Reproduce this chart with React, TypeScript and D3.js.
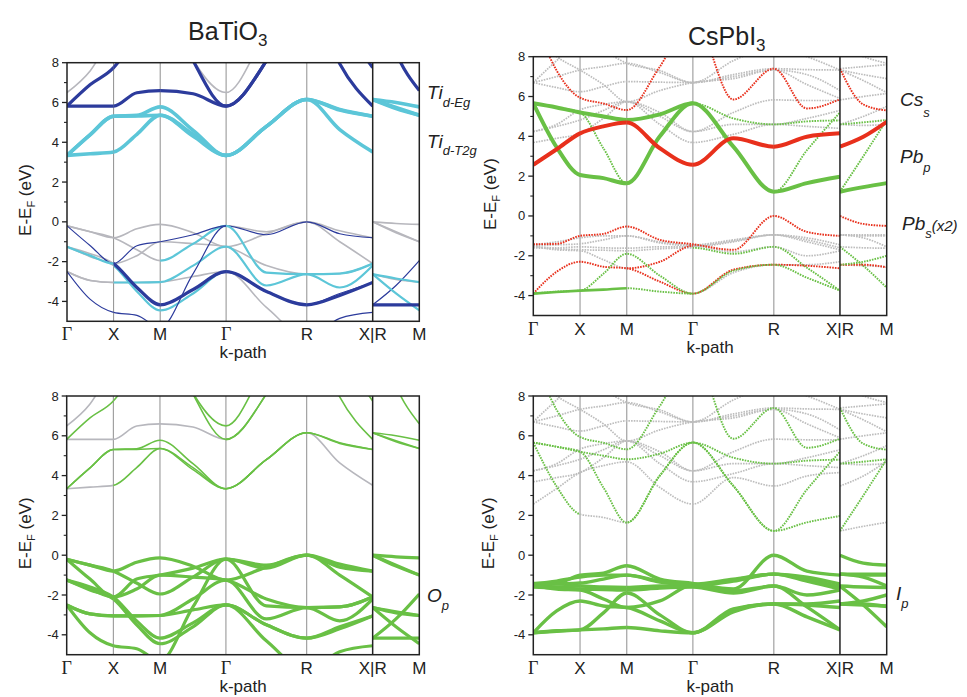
import React from 'react';
import * as d3 from 'd3';

// cubic Brillouin zone path Γ-X-M-Γ-R-X | R-M, segment lengths in units of 2π/a
const segLengths = [0.5, 0.5, 0.707, 0.866, 0.707];
const branchLength = 0.5;
const yTicks = [-4, -2, 0, 2, 4, 6, 8];
const yMinor = [-3, -1, 1, 3, 5, 7];

// energies (eV) at [Γ, ½, X, ½, M, ½, Γ, ½, R, ½, X] and branch [R, ½, M]
const batioBands = [
  [-0.2, -0.5, -0.8, -0.35, -0.13, -0.55, -1.25, -0.6, 0, -0.45, -0.8],
  [-0.2, -0.5, -0.8, -1.4, -1.95, -1.1, -0.2, -0.65, 0, -0.6, -0.8],
  [-0.2, -1.2, -2.1, -1.2, -1.0, -0.65, -0.2, -0.5, 0, -1.0, -2.1],
  [-1.25, -1.7, -2.1, -1.7, -1.0, -1.1, -1.25, -2.2, -2.63, -2.6, -2.1],
  [-1.25, -1.6, -2.1, -3.3, -4.17, -3.4, -2.5, -3.5, -4.17, -3.7, -3.05],
  [-1.25, -1.75, -2.2, -3.5, -4.45, -3.6, -2.5, -3.5, -4.17, -3.6, -3.05],
  [-2.5, -2.95, -3.05, -3.05, -3.03, -2.2, -1.25, -3.2, -2.63, -3.3, -2.2],
  [-2.5, -2.95, -3.05, -3.05, -3.03, -2.75, -2.5, -4.3, -5.8, -4.85, -4.55],
  [-2.5, -3.9, -4.55, -4.7, -5.3, -2.6, -0.2, -2.55, -2.63, -2.6, -2.1],
  [3.34, 4.39, 5.31, 5.35, 5.78, 4.6, 3.34, 4.8, 6.15, 5.65, 5.31],
  [3.34, 4.39, 5.31, 5.32, 5.36, 4.4, 3.34, 4.8, 6.15, 5.62, 5.31],
  [3.34, 3.42, 3.51, 4.4, 5.36, 4.3, 3.34, 4.8, 6.15, 4.64, 3.51],
  [5.82, 6.9, 7.75, 9.5, 12, 8.1, 5.82, 8.1, 12, 10, 7.75],
  [5.82, 5.82, 5.82, 6.49, 6.6, 6.44, 5.82, 8.1, 12, 7.95, 5.82],
  [6.5, 7.6, 9.5, 11, 12, 8.15, 6.5, 9.5, 12, 12, 9.5],
];
const batioBranch = [
  [0, -0.08, -0.13],
  [0, -0.5, -1.0],
  [0, -0.55, -1.0],
  [-2.63, -2.9, -3.03],
  [-4.17, -4.17, -4.17],
  [-4.17, -3.2, -1.95],
  [-2.63, -2.85, -3.03],
  [-5.8, -5.5, -5.3],
  [-2.63, -3.6, -4.45],
  [6.15, 6.0, 5.78],
  [6.15, 5.75, 5.36],
  [6.15, 5.7, 5.36],
  [12, 12, 12],
  [12, 8.5, 6.6],
  [12, 12, 12],
];
// dominant projection per segment (ΓX, XM, MΓ, ΓR, RX, RM)
// g: none, b/B: Ti d-Eg weak/strong, c/C: Ti d-T2g weak/strong
const batioTiProj = [
  'gggggg', 'ggcbbg', 'bbbggg', 'cggggg', 'gBBBBB', 'gcccbb', 'gccccc', 'ggggbg', 'bbbccc',
  'CCCCCC', 'CCCCCC', 'CCCCCC', 'BBBBBB', 'BBBBBB', 'gggggg',
];
// o/O: O p weak/strong
const batioOProj = [
  'OOOOOO', 'OOOOOO', 'OOOOOO', 'OOOOOO', 'OOOOOO', 'OOOOOO', 'OOOOOO', 'OOOOOO', 'OOOOOO',
  'oooooo', 'oooooo', 'gooogo', 'oooooo', 'gggooo', 'ggoogg',
];

const cspbBands = [
  [-1.42, -1.4, -1.0, -0.9, -0.53, -1.2, -1.42, -1.7, 0, -0.8, -1.0],
  [-1.45, -1.3, -1.1, -1.0, -1.0, -1.3, -1.45, -1.2, -0.95, -1.1, -1.45],
  [-1.5, -1.45, -1.4, -1.2, -1.0, -1.35, -1.5, -1.25, -0.95, -1.2, -1.6],
  [-1.55, -1.6, -1.55, -1.6, -1.62, -1.55, -1.55, -1.3, -0.95, -1.3, -1.7],
  [-1.6, -1.65, -1.7, -1.72, -1.75, -1.65, -1.6, -1.9, -1.55, -2.0, -1.75],
  [-1.5, -1.7, -1.75, -2.2, -2.63, -2.3, -1.5, -1.8, -1.55, -2.6, -3.75],
  [-3.9, -2.8, -2.3, -2.55, -2.63, -3.3, -3.9, -2.7, -2.45, -2.45, -2.3],
  [-3.9, -3.8, -3.75, -2.9, -1.9, -3.0, -3.9, -2.75, -2.45, -2.5, -2.63],
  [-3.9, -3.82, -3.75, -3.7, -3.63, -3.8, -3.9, -2.85, -2.45, -3.1, -3.75],
  [5.66, 3.45, 2.06, 1.9, 1.64, 4.0, 5.66, 3.48, 1.22, 1.65, 1.97],
  [5.66, 5.45, 5.2, 3.4, 1.64, 4.0, 5.66, 3.48, 1.22, 3.3, 5.2],
  [5.66, 5.45, 5.2, 5.0, 4.82, 5.1, 5.66, 4.9, 4.6, 4.75, 4.8],
  [2.57, 3.35, 4.15, 4.5, 4.69, 3.4, 2.57, 3.9, 3.48, 3.98, 4.15],
  [10, 7.3, 5.94, 5.65, 5.32, 7.5, 10, 5.85, 7.4, 5.4, 5.86],
  [6.7, 7.0, 7.33, 7.5, 7.67, 7.2, 6.7, 7.0, 7.33, 7.1, 6.3],
  [6.7, 6.45, 6.24, 6.5, 6.75, 6.72, 6.7, 7.1, 7.4, 7.35, 7.33],
  [4.24, 4.5, 4.82, 5.3, 5.74, 5.0, 4.24, 5.2, 5.83, 5.8, 5.8],
  [3.69, 3.9, 4.15, 4.9, 5.74, 4.6, 3.69, 4.1, 4.6, 4.5, 4.4],
  [4.24, 4.6, 5.33, 5.6, 5.74, 5.2, 4.24, 4.6, 4.6, 4.9, 5.3],
  [9.0, 8.0, 7.33, 6.6, 5.74, 6.3, 6.7, 6.9, 7.33, 6.6, 5.9],
  [6.7, 7.8, 8.8, 8.3, 7.67, 7.3, 6.7, 7.8, 8.5, 8.0, 7.33],
];
const cspbBranch = [
  [0, -0.4, -0.5],
  [-0.95, -0.95, -0.95],
  [-0.95, -1.1, -1.55],
  [-0.95, -1.0, -1.0],
  [-1.55, -1.6, -1.62],
  [-1.55, -2.5, -3.6],
  [-2.45, -2.45, -2.58],
  [-2.45, -2.3, -2.0],
  [-2.45, -2.5, -2.55],
  [1.22, 1.45, 1.65],
  [1.22, 3.0, 4.82],
  [4.6, 4.7, 4.82],
  [3.48, 3.98, 4.73],
  [7.4, 5.6, 5.3],
  [7.33, 7.1, 6.9],
  [7.4, 7.5, 7.6],
  [5.83, 6.0, 6.15],
  [4.6, 4.55, 4.6],
  [4.6, 5.0, 5.5],
  [7.33, 6.8, 6.2],
  [8.5, 8.0, 7.67],
];
// g: Cs s / none, r/R: Pb s weak/strong, p/m/P: Pb p weak/medium/strong
const cspbCationProj = [
  'rrrrrr', 'gggggg', 'gggggg', 'gggggg', 'gggpgg', 'ggrgpp', 'rrrrgr', 'pppprp', 'mmpgpg',
  'PPPPPP', 'pppppp', 'PPPppp', 'RRRRRR', 'rrrrrr',
  'gggggg', 'gggggg', 'gggggg', 'gggggg', 'gggggg', 'gggggg', 'gggggg',
];
// i/I: I p weak/strong
const cspbIProj = [
  'IIIIII', 'IIIIII', 'IIIIII', 'IIIIII', 'IIIIII', 'IIIIII', 'IIIIII', 'IIIIII', 'IIIIII',
  'igiiig', 'iiiiii', 'iiiiii', 'gggggg', 'iiiiii',
  'gggggg', 'gggggg', 'gggggg', 'gggggg', 'gggggg', 'gggggg', 'gggggg',
];

const grayA = '#b7b7bd';
const grayB = '#bdbdbd';
const egBlue = '#2c3b9c';
const t2gCyan = '#5cc6d8';
const green = '#69c045';
const red = '#e8301c';
const dots = '1.6 1.1';

const batioTopStyle = {
  g: { color: grayA, width: 1.6, z: 0 },
  b: { color: egBlue, width: 1.2, z: 1 },
  c: { color: t2gCyan, width: 2.2, z: 1 },
  B: { color: egBlue, width: 3.2, z: 2 },
  C: { color: t2gCyan, width: 3.6, z: 2 },
};
const batioBotStyle = {
  g: { color: grayA, width: 1.6, z: 0 },
  o: { color: green, width: 1.6, z: 1 },
  O: { color: green, width: 3.2, z: 2 },
};
const cspbTopStyle = {
  g: { color: grayB, width: 1.7, z: 0, dash: dots },
  r: { color: red, width: 1.9, z: 1, dash: dots },
  p: { color: green, width: 1.9, z: 1, dash: dots },
  m: { color: green, width: 2.6, z: 2 },
  R: { color: red, width: 4, z: 2 },
  P: { color: green, width: 4, z: 2 },
};
const cspbBotStyle = {
  g: { color: grayB, width: 1.7, z: 0, dash: dots },
  i: { color: green, width: 1.9, z: 1, dash: dots },
  I: { color: green, width: 3.4, z: 2 },
};

const font = 'Liberation Sans, Arial, sans-serif';

const cum = [0, ...d3.cumsum(segLengths)];
const kMain = [...segLengths.flatMap((l, i) => [cum[i], cum[i] + l / 2]), cum[cum.length - 1]];
const kStart = cum[cum.length - 1];
const kBranch = [kStart, kStart + branchLength / 2, kStart + branchLength];
const kTotal = kStart + branchLength;
const tickK = [...cum, kTotal];
const tickNames = ['Γ', 'X', 'M', 'Γ', 'R', 'X|R', 'M'];

type Lbl = { x: number; y: number; main: string; sub: string; dy: number; extra?: string };

const Panel = (props: any) => {
  const { id, x0, x1, yTop, yBot, bands, branch, proj, styles, labels, ylabelX } = props;
  const xs = d3.scaleLinear().domain([0, kTotal]).range([x0, x1]);
  const ys = d3.scaleLinear().domain([-5, 8]).range([yBot, yTop]);
  const line = d3
    .line<[number, number]>()
    .x(d => xs(d[0]))
    .y(d => ys(d[1]))
    .curve(d3.curveMonotoneX);

  const segRanges = [...segLengths.map((_, i) => [cum[i], cum[i + 1]]), [kStart, kTotal]];

  const items: any[] = [];
  bands.forEach((b: number[], i: number) => {
    const dMain = line(kMain.map((k, j) => [k, b[j]]) as [number, number][]);
    const dBranch = line(kBranch.map((k, j) => [k, branch[i][j]]) as [number, number][]);
    for (let s = 0; s < 6; s++) {
      const st = styles[proj[i][s]];
      items.push({ key: `${i}-${s}`, d: s < 5 ? dMain : dBranch, s, st });
    }
  });
  items.sort((a, b) => a.st.z - b.st.z);

  const yMid = (yTop + yBot) / 2 + 8;

  return (
    <g>
      <defs>
        {segRanges.map((r, s) => (
          <clipPath id={`${id}-c${s}`} key={s}>
            <rect x={xs(r[0])} y={yTop} width={xs(r[1]) - xs(r[0])} height={yBot - yTop} />
          </clipPath>
        ))}
      </defs>
      {cum.slice(1, 5).map((k, i) => (
        <line key={i} x1={xs(k)} x2={xs(k)} y1={yTop} y2={yBot} stroke="#8f8f8f" strokeWidth={1} />
      ))}
      {items.map(it => (
        <path
          key={it.key}
          d={it.d}
          clipPath={`url(#${id}-c${it.s})`}
          fill="none"
          stroke={it.st.color}
          strokeWidth={it.st.width}
          strokeDasharray={it.st.dash}
        />
      ))}
      <line x1={xs(kStart)} x2={xs(kStart)} y1={yTop} y2={yBot} stroke="#222" strokeWidth={1.5} />
      <rect x={x0} y={yTop} width={x1 - x0} height={yBot - yTop} fill="none" stroke="#222" strokeWidth={1.5} />
      {yTicks.map(t => (
        <g key={t}>
          <line x1={x0 - 5} x2={x0} y1={ys(t)} y2={ys(t)} stroke="#222" strokeWidth={1.3} />
          <text x={x0 - 8} y={ys(t) + 4.5} textAnchor="end" fontSize={13} fontFamily={font} fill="#222">
            {t}
          </text>
        </g>
      ))}
      {yMinor.map(t => (
        <line key={t} x1={x0 - 3} x2={x0} y1={ys(t)} y2={ys(t)} stroke="#222" strokeWidth={1.1} />
      ))}
      {tickK.map((k, i) => (
        <text
          key={i}
          x={xs(k)}
          y={yBot + 19}
          textAnchor="middle"
          fontSize={tickNames[i] === 'Γ' ? 18 : 17}
          fontFamily={tickNames[i] === 'Γ' ? 'Liberation Serif, serif' : font}
          fill="#222"
        >
          {tickNames[i]}
        </text>
      ))}
      <text x={(x0 + x1) / 2} y={yBot + 37} textAnchor="middle" fontSize={17} fontFamily={font} fill="#222">
        k-path
      </text>
      <text
        transform={`translate(${ylabelX},${yMid}) rotate(-90)`}
        textAnchor="middle"
        fontSize={17}
        fontFamily={font}
        fill="#222"
      >
        E-E
        <tspan fontSize={11} dy={4}>
          F
        </tspan>
        <tspan dy={-4}> (eV)</tspan>
      </text>
      {labels.map((l: Lbl, i: number) => (
        <text key={i} x={l.x} y={l.y} fontSize={19} fontStyle="italic" fontFamily={font} fill="#222">
          {l.main}
          <tspan fontSize={13} dy={l.dy}>
            {l.sub}
          </tspan>
          {l.extra && (
            <tspan fontSize={15} dy={-l.dy + 1}>
              {l.extra}
            </tspan>
          )}
        </text>
      ))}
    </g>
  );
};

const App = () => {
  return (
    <svg width={967} height={697} style={{ display: 'block', position: 'absolute', left: 0, top: 0, background: '#fff' }}>
      <rect width={967} height={697} fill="#fff" />
      <text x={188} y={40} fontSize={25} fontFamily={font} fill="#222">
        BaTiO<tspan fontSize={17} dy={6}>3</tspan>
      </text>
      <text x={688} y={45} fontSize={25} fontFamily={font} fill="#222">
        CsPbI<tspan fontSize={17} dy={6}>3</tspan>
      </text>
      <Panel
        id="p1"
        x0={67}
        x1={419.3}
        yTop={62.7}
        yBot={321.3}
        bands={batioBands}
        branch={batioBranch}
        proj={batioTiProj}
        styles={batioTopStyle}
        ylabelX={31}
        labels={[
          { x: 427, y: 99, main: 'Ti', sub: 'd-Eg', dy: 8 },
          { x: 427, y: 148, main: 'Ti', sub: 'd-T2g', dy: 7 },
        ]}
      />
      <Panel
        id="p2"
        x0={533.3}
        x1={886.7}
        yTop={56.7}
        yBot={315.5}
        bands={cspbBands}
        branch={cspbBranch}
        proj={cspbCationProj}
        styles={cspbTopStyle}
        ylabelX={496}
        labels={[
          { x: 900, y: 106, main: 'Cs', sub: 's', dy: 11 },
          { x: 900, y: 163, main: 'Pb', sub: 'p', dy: 9 },
          { x: 902, y: 230, main: 'Pb', sub: 's', dy: 8, extra: '(x2)' },
        ]}
      />
      <Panel
        id="p3"
        x0={66.7}
        x1={419.3}
        yTop={396}
        yBot={654.7}
        bands={batioBands}
        branch={batioBranch}
        proj={batioOProj}
        styles={batioBotStyle}
        ylabelX={31}
        labels={[{ x: 427, y: 602, main: 'O', sub: 'p', dy: 8 }]}
      />
      <Panel
        id="p4"
        x0={533.3}
        x1={886.7}
        yTop={396}
        yBot={654.7}
        bands={cspbBands}
        branch={cspbBranch}
        proj={cspbIProj}
        styles={cspbBotStyle}
        ylabelX={494}
        labels={[{ x: 896, y: 600, main: 'I', sub: 'p', dy: 8 }]}
      />
    </svg>
  );
};

export default App;
